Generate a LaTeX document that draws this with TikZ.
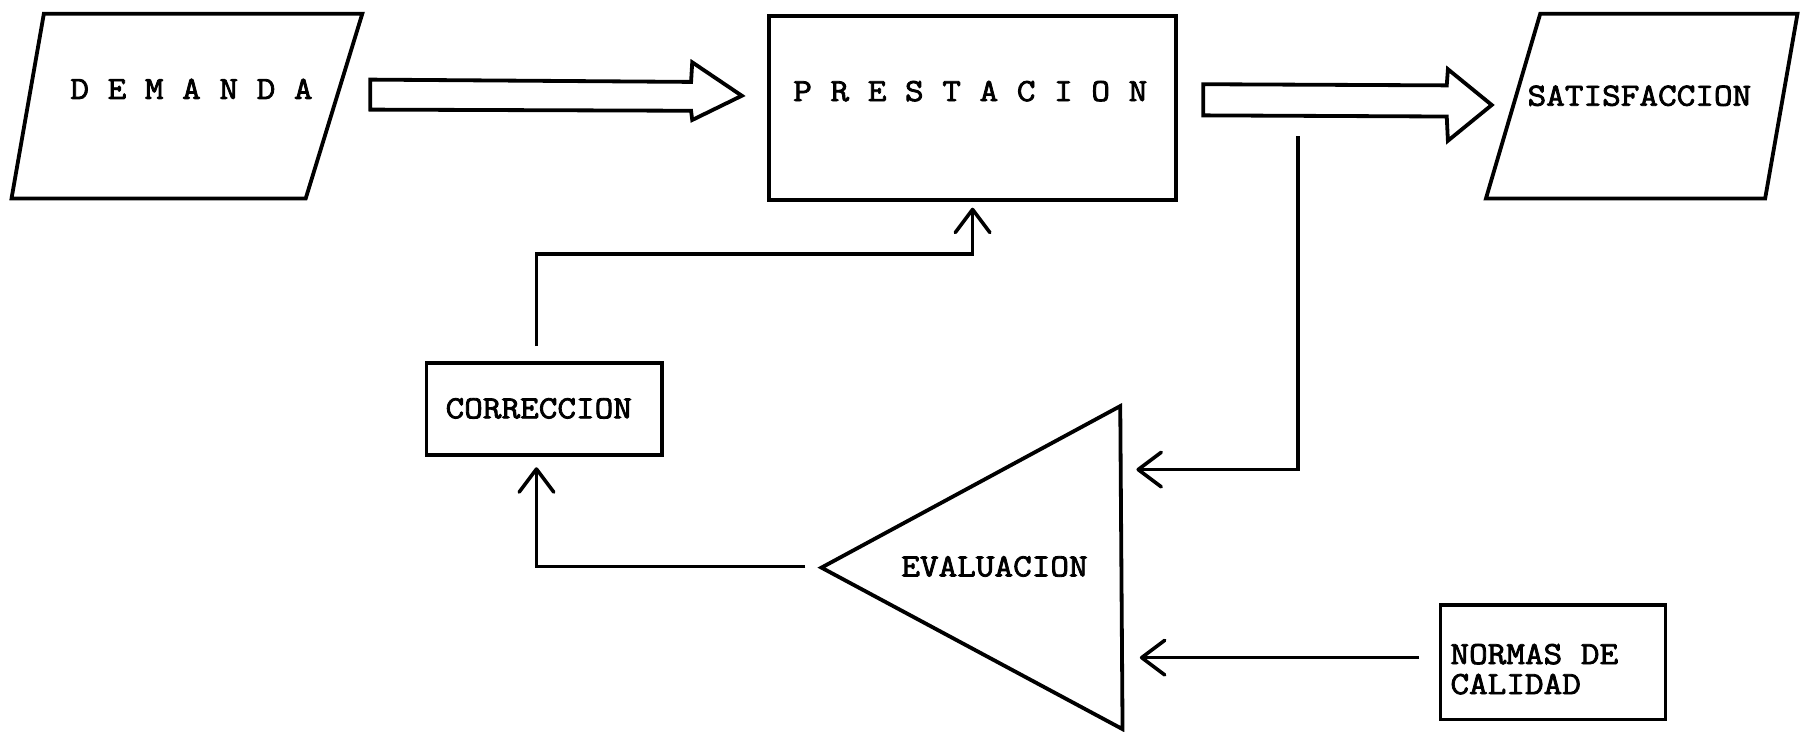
\documentclass[tikz,border=0pt]{standalone}
\usepackage{fontspec}
\newfontfamily\typewriter{Latin Modern Mono}[FakeBold=2.5, FakeStretch=1.12]
\usetikzlibrary{arrows.meta}
\begin{document}
\begin{tikzpicture}[x=1pt,y=-1pt,
  outline/.style={draw, line width=3.3pt, line join=miter},
  box/.style={outline, rectangle, inner sep=0pt, anchor=north west},
  wire/.style={line width=3.1pt},
  barb/.style={-{Straight Barb[length=20pt,width=30pt,round]}},
  lbl/.style={font=\fontsize{28}{26}\selectfont\typewriter, inner sep=0pt}]
  \path[use as bounding box] (0,0) rectangle (1568,634);

  % input parallelogram
  \draw[outline] (38,12) coordinate (dTL) -- (314,12) coordinate (dTR)
    -- (265,172) coordinate (dBR) -- (10,172) coordinate (dBL) -- cycle;
  \node[lbl] (demT) at (166,77) {D E M A N D A};

  % service block
  \node[box, minimum width=353pt, minimum height=160pt] (prest) at (665,12) {};
  \node[lbl] (prestT) at (841,79) {P R E S T A C I O N};

  % output parallelogram
  \draw[outline] (1335,12) coordinate (sTL) -- (1558,12) coordinate (sTR)
    -- (1530,172) coordinate (sBR) -- (1288,172) coordinate (sBL) -- cycle;
  \node[lbl] (satT) at (1421,83) {SATISFACCION};

  % broad flow arrows
  \draw[outline] (321,69) -- (599,71) -- (600,54) -- (643,83) -- (600,104)
    -- (599,96) -- (321,95) -- cycle;
  \draw[outline] (1043,73) -- (1254,74) -- (1255,60) -- (1293,91) -- (1255,122)
    -- (1254,101) -- (1043,100) -- cycle;

  % evaluation triangle
  \draw[outline] (712,492) coordinate (evL) -- (971,352) coordinate (evT)
    -- (973,632) coordinate (evB) -- cycle;
  \node[lbl] (evalT) at (862,491) {EVALUACION};

  % correction block
  \node[box, minimum width=204pt, minimum height=80pt] (corr) at (368,313) {};
  \node[lbl] (corrT) at (467,354) {CORRECCION};

  % quality standards block
  \node[box, minimum width=195pt, minimum height=99pt] (norm) at (1247,523) {};
  \node[lbl, anchor=west, align=left] (normT) at (1257,580) {NORMAS DE\\CALIDAD};

  % feedback connectors
  \coordinate (fbStart) at (1125,118);
  \coordinate (fbIn) at (985,407);
  \draw[wire, barb] (fbStart) |- (fbIn);

  \coordinate (nOut) at (1230,570);
  \coordinate (nIn) at (988,570);
  \draw[wire, barb] (nOut) -- (nIn);

  \coordinate (eOut) at (698,491);
  \coordinate (cIn) at (465,405);
  \draw[wire, barb] (eOut) -| (cIn);

  \coordinate (cOut) at (465,300);
  \coordinate (pIn) at (843,180);
  \draw[wire, barb] (cOut) -- (465,220) -| (pIn);
\end{tikzpicture}
\end{document}
